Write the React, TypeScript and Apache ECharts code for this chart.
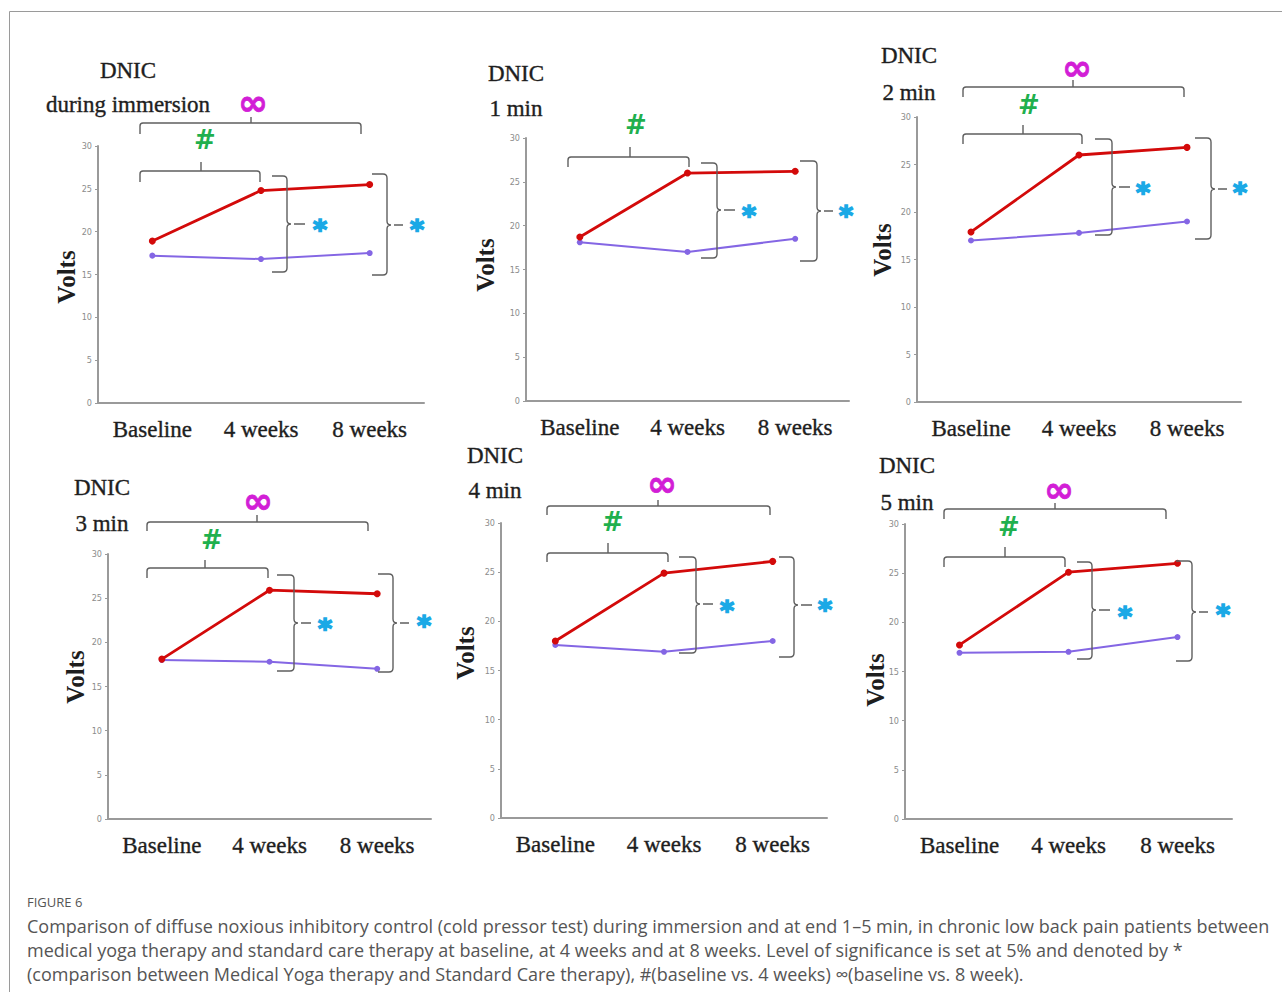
import React, { useEffect, useRef } from "react";
import * as echarts from "echarts";

// ---------- data ----------
const categories = ["Baseline", "4 weeks", "8 weeks"];
const yTickMin = 0;
const yTickMax = 30;
const yTickStep = 5;

const titleDuring = ["DNIC", "during immersion"];
const title1 = ["DNIC", "1 min"];
const title2 = ["DNIC", "2 min"];
const title3 = ["DNIC", "3 min"];
const title4 = ["DNIC", "4 min"];
const title5 = ["DNIC", "5 min"];

// Medical Yoga therapy (red) and Standard Care therapy (purple), volts
const yogaDuring = [18.9, 24.8, 25.5];
const careDuring = [17.2, 16.8, 17.5];
const yoga1 = [18.7, 26.0, 26.2];
const care1 = [18.1, 17.0, 18.5];
const yoga2 = [17.9, 26.0, 26.8];
const care2 = [17.0, 17.8, 19.0];
const yoga3 = [18.1, 25.9, 25.5];
const care3 = [18.0, 17.8, 17.0];
const yoga4 = [18.0, 24.9, 26.1];
const care4 = [17.6, 16.9, 18.0];
const yoga5 = [17.7, 25.1, 26.0];
const care5 = [16.9, 17.0, 18.5];

const yAxisName = "Volts";
const symStar = "*";
const symHash = "#";
const symInf = "\u221E";

const figureLabel = "FIGURE 6";
const captionLines = [
  "Comparison of diffuse noxious inhibitory control (cold pressor test) during immersion and at end 1\u20135 min, in chronic low back pain patients between",
  "medical yoga therapy and standard care therapy at baseline, at 4 weeks and at 8 weeks. Level of significance is set at 5% and denoted by *",
  "(comparison between Medical Yoga therapy and Standard Care therapy), #(baseline vs. 4 weeks) \u221E(baseline vs. 8 week).",
];

// ---------- layout (pixels) ----------
type Brace = [number, number, number, number, number, number]; // x, top, bottom, mid, leftEnd, tickEnd
type Bracket = [number, number, number, number, number, number]; // x1, x2, y, yEnd, xc, yTickTop
interface PanelLayout {
  grid: { left: number; top: number; width: number; height: number };
  title: [number, number, number, number];
  volts: [number, number];
  inf?: [number, number];
  infBracket?: Bracket;
  hash: [number, number];
  hashBracket: Bracket;
  braces: [Brace, Brace];
  stars: [[number, number], [number, number]];
}

const layouts: PanelLayout[] = [
  {
    grid: { left: 98, top: 146, width: 326, height: 257 },
    title: [128, 70, 128, 104],
    volts: [66, 277],
    inf: [253, 102],
    infBracket: [140, 361, 123, 134, 251, 117],
    hash: [205, 140],
    hashBracket: [140, 260, 171, 182, 201, 162],
    braces: [
      [287, 176, 272, 224, 272, 305],
      [387, 174, 275, 225, 372, 403],
    ],
    stars: [[320, 222], [417, 222]],
  },
  {
    grid: { left: 526, top: 138, width: 323, height: 263 },
    title: [516, 73, 516, 108],
    volts: [485, 265],
    hash: [636, 125],
    hashBracket: [568, 689, 157, 167, 630, 147],
    braces: [
      [717, 163, 258, 210, 701, 735],
      [817, 161, 261, 211, 800, 833],
    ],
    stars: [[749, 208], [846, 208]],
  },
  {
    grid: { left: 917, top: 117, width: 324, height: 285 },
    title: [909, 55, 909, 92],
    volts: [882, 250],
    inf: [1077, 67],
    infBracket: [963, 1184, 87, 97, 1073, 80],
    hash: [1029, 105],
    hashBracket: [963, 1082, 134, 144, 1023, 125],
    braces: [
      [1112, 139, 235, 187, 1095, 1130],
      [1211, 138, 239, 189, 1195, 1227],
    ],
    stars: [[1143, 185], [1240, 185]],
  },
  {
    grid: { left: 108, top: 554, width: 323, height: 265 },
    title: [102, 487, 102, 523],
    volts: [75, 677],
    inf: [258, 500],
    infBracket: [147, 368, 522, 531, 257, 515],
    hash: [212, 540],
    hashBracket: [147, 268, 568, 578, 205, 560],
    braces: [
      [294, 575, 671, 623, 277, 311],
      [393, 574, 672, 623, 378, 409],
    ],
    stars: [[325, 621], [424, 618]],
  },
  {
    grid: { left: 501, top: 523, width: 326, height: 295 },
    title: [495, 455, 495, 490],
    volts: [465, 653],
    inf: [662, 483],
    infBracket: [547, 770, 506, 515, 658, 500],
    hash: [613, 522],
    hashBracket: [547, 668, 553, 562, 608, 543],
    braces: [
      [696, 557, 653, 604, 679, 713],
      [794, 557, 657, 605, 779, 812],
    ],
    stars: [[727, 603], [825, 602]],
  },
  {
    grid: { left: 905, top: 524, width: 327, height: 295 },
    title: [907, 465, 907, 502],
    volts: [875, 680],
    inf: [1059, 489],
    infBracket: [944, 1166, 509, 519, 1055, 503],
    hash: [1009, 527],
    hashBracket: [944, 1065, 557, 567, 1005, 547],
    braces: [
      [1092, 562, 659, 610, 1077, 1110],
      [1192, 561, 661, 612, 1176, 1208],
    ],
    stars: [[1125, 609], [1223, 607]],
  },
];

const panels = [
  { titles: titleDuring, yoga: yogaDuring, care: careDuring },
  { titles: title1, yoga: yoga1, care: care1 },
  { titles: title2, yoga: yoga2, care: care2 },
  { titles: title3, yoga: yoga3, care: care3 },
  { titles: title4, yoga: yoga4, care: care4 },
  { titles: title5, yoga: yoga5, care: care5 },
];

const RED = "#d30a0a";
const PURPLE = "#8466e4";
const AXIS = "#9a9a9a";
const BRACE = "#5f5f5f";
const INK = "#1e1e1e";
const SERIF = "'Liberation Serif', 'Times New Roman', serif";
const SYM = "'DejaVu Sans', sans-serif";

function vBracePath(b: Brace): string {
  const [x, t, bo, m, le, te] = b;
  const r = 4;
  return (
    `M${le} ${t} L${x - r} ${t} Q${x} ${t} ${x} ${t + r} L${x} ${m - r} Q${x} ${m} ${x + r} ${m} ` +
    `M${x + r} ${m} Q${x} ${m} ${x} ${m + r} L${x} ${bo - r} Q${x} ${bo} ${x - r} ${bo} L${le} ${bo} ` +
    `M${x + r + 3} ${m} L${te} ${m} `
  );
}

function hBracketPath(b: Bracket): string {
  const [x1, x2, y, ye, xc, yt] = b;
  const r = 3;
  return (
    `M${x1} ${ye} L${x1} ${y + r} Q${x1} ${y} ${x1 + r} ${y} L${x2 - r} ${y} Q${x2} ${y} ${x2} ${y + r} L${x2} ${ye} ` +
    `M${xc} ${y} L${xc} ${yt} `
  );
}

export default function App() {
  const ref = useRef<HTMLDivElement>(null);

  useEffect(() => {
    if (!ref.current) return;
    let d = "";
    layouts.forEach((L) => {
      L.braces.forEach((b) => (d += vBracePath(b)));
      d += hBracketPath(L.hashBracket);
      if (L.infBracket) d += hBracketPath(L.infBracket);
    });
    echarts.graphic.registerShape("sigBraces", echarts.graphic.extendPath(d, {}));

    const chart = echarts.init(ref.current, undefined, { renderer: "svg" });

    const grids: any[] = [];
    const xAxes: any[] = [];
    const yAxes: any[] = [];
    const series: any[] = [];
    const elements: any[] = [];

    panels.forEach((p, i) => {
      const L = layouts[i];
      grids.push({ ...L.grid, containLabel: false });
      xAxes.push({
        type: "category",
        gridIndex: i,
        data: categories,
        boundaryGap: true,
        axisLine: { lineStyle: { color: AXIS, width: 2 } },
        axisTick: { show: false },
        axisLabel: {
          fontFamily: SERIF,
          fontSize: 23,
          color: INK,
          margin: 15,
          interval: 0,
          textBorderColor: "#3a3a3a",
          textBorderWidth: 0.4,
        },
      });
      yAxes.push({
        type: "value",
        gridIndex: i,
        min: yTickMin,
        max: yTickMax,
        interval: yTickStep,
        axisLine: { show: true, lineStyle: { color: AXIS, width: 2 } },
        axisTick: { show: true, length: 3, lineStyle: { color: AXIS, width: 1 } },
        splitLine: { show: false },
        axisLabel: { fontSize: 9, color: "#8c8c8c", margin: 6, fontFamily: "'DejaVu Sans Condensed', 'Liberation Sans Narrow', sans-serif" },
      });
      series.push({
        type: "line",
        name: "Standard Care therapy",
        xAxisIndex: i,
        yAxisIndex: i,
        data: p.care,
        symbol: "circle",
        symbolSize: 6,
        lineStyle: { color: PURPLE, width: 2 },
        itemStyle: { color: PURPLE },
        z: 2,
      });
      series.push({
        type: "line",
        name: "Medical Yoga therapy",
        xAxisIndex: i,
        yAxisIndex: i,
        data: p.yoga,
        symbol: "circle",
        symbolSize: 7,
        lineStyle: { color: RED, width: 2.8 },
        itemStyle: { color: RED },
        z: 3,
      });

      const titleStyle = {
        fontFamily: SERIF,
        fontSize: 23,
        fill: INK,
        align: "center",
        verticalAlign: "middle",
        stroke: "#3a3a3a",
        lineWidth: 0.4,
      };
      elements.push({ type: "text", x: L.title[0], y: L.title[1], style: { ...titleStyle, text: p.titles[0] } });
      elements.push({ type: "text", x: L.title[2], y: L.title[3], style: { ...titleStyle, text: p.titles[1] } });
      elements.push({
        type: "text",
        x: L.volts[0],
        y: L.volts[1],
        rotation: Math.PI / 2,
        style: { text: yAxisName, fontFamily: SERIF, fontSize: 25, fontWeight: "bold", fill: INK, align: "center", verticalAlign: "middle" },
      });
      if (L.inf) {
        elements.push({
          type: "text",
          x: L.inf[0],
          y: L.inf[1],
          style: { text: symInf, fontFamily: SYM, fontSize: 36, fontWeight: "bold", fill: "#d21ed6", stroke: "#d21ed6", lineWidth: 0.8, align: "center", verticalAlign: "middle" },
        });
      }
      elements.push({
        type: "text",
        x: L.hash[0],
        y: L.hash[1],
        style: { text: symHash, fontFamily: SYM, fontSize: 26, fontWeight: "bold", fill: "#1fb04e", align: "center", verticalAlign: "middle" },
      });
      L.stars.forEach((s) => {
        elements.push({
          type: "text",
          x: s[0],
          y: s[1] + 7,
          style: { text: symStar, fontFamily: SYM, fontSize: 27, fontWeight: "bold", fill: "#1aa9e6", stroke: "#1aa9e6", lineWidth: 1.6, align: "center", verticalAlign: "middle" },
        });
      });
    });

    elements.push({
      type: "sigBraces",
      x: 0,
      y: 0,
      style: { fill: "none", stroke: BRACE, lineWidth: 1.4 },
      z: 10,
    });

    elements.push({
      type: "polyline",
      shape: { points: [[9.5, 992], [9.5, 11.5], [1282, 11.5]] },
      style: { fill: "none", stroke: "#9a9a9a", lineWidth: 1 },
    });

    elements.push({
      type: "text",
      x: 27,
      y: 902,
      style: { text: figureLabel, fontFamily: "'Open Sans', sans-serif", fontSize: 13, fill: "#555", align: "left", verticalAlign: "middle" },
    });
    captionLines.forEach((line, k) => {
      elements.push({
        type: "text",
        x: 27,
        y: 926 + k * 24,
        style: { text: line, fontFamily: "'Open Sans', sans-serif", fontSize: 18, fill: "#555", align: "left", verticalAlign: "middle" },
      });
    });

    chart.setOption({
      animation: false,
      backgroundColor: "#ffffff",
      grid: grids,
      xAxis: xAxes,
      yAxis: yAxes,
      series,
      graphic: { elements },
    });

    return () => chart.dispose();
  }, []);

  return (
    <div
      ref={ref}
      style={{ position: "absolute", left: 0, top: 0, width: 1282, height: 992, background: "#fff" }}
    />
  );
}
